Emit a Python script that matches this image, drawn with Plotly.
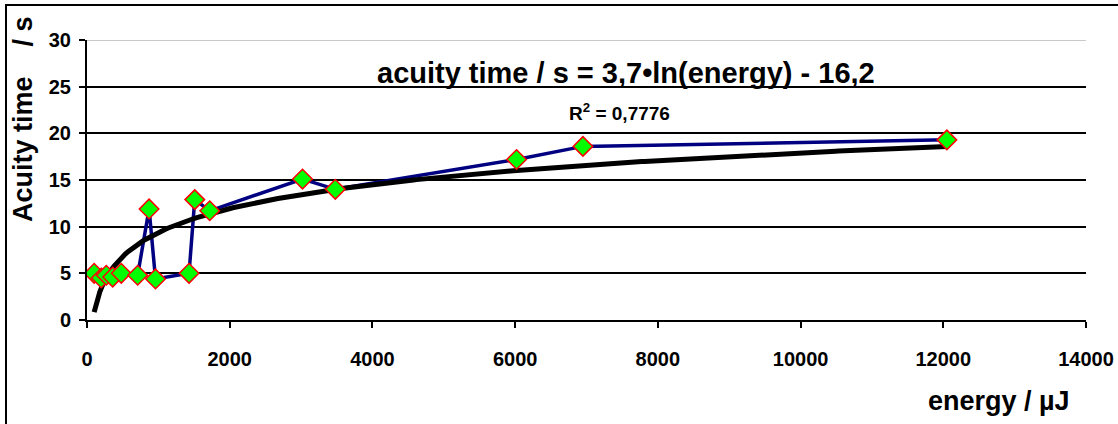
import numpy as np
import plotly.graph_objects as go

# ---- data ----
energy_uJ = [100, 200, 270, 360, 480, 710, 870, 960, 1430, 1510, 1720, 3020, 3480, 6020, 6950, 12050]
acuity_s = [5.0, 4.5, 4.8, 4.6, 5.0, 4.8, 11.9, 4.4, 5.0, 12.9, 11.7, 15.1, 14.0, 17.2, 18.6, 19.3]
x_ticks = [0, 2000, 4000, 6000, 8000, 10000, 12000, 14000]
y_ticks = [0, 5, 10, 15, 20, 25, 30]
equation_text = "acuity time / s = 3,7•ln(energy) - 16,2"
r2_text = "R<sup>2</sup> = 0,7776"
y_title = "Acuity time\u00a0\u00a0\u00a0 / s"
x_title = "energy / µJ"

# logarithmic trendline (least squares on ln x, like the spreadsheet's trendline)
a, b = np.polyfit(np.log(energy_uJ), acuity_s, 1)
trend_x = np.linspace(min(energy_uJ), max(energy_uJ), 300)
trend_y = a * np.log(trend_x) + b

FONT = "Liberation Sans, Arial, sans-serif"

fig = go.Figure()
fig.add_trace(go.Scatter(
    x=energy_uJ, y=acuity_s, mode="lines",
    line=dict(color="#000080", width=3.5), showlegend=False, hoverinfo="skip"))
fig.add_trace(go.Scatter(
    x=trend_x, y=trend_y, mode="lines",
    line=dict(color="black", width=5), showlegend=False))
fig.add_trace(go.Scatter(
    x=energy_uJ, y=acuity_s, mode="markers",
    marker=dict(symbol="diamond", size=15, color="#00FF00",
                line=dict(color="#FF0000", width=1.5)),
    showlegend=False))

# plot-area pixel box, used to place free texts
PL, PR, PT, PB = 87, 1086, 40, 320
def px(xp):
    return (xp - PL) / (PR - PL)
def py(yp):
    return (PB - yp) / (PB - PT)

def bold(size):
    return dict(family=FONT, size=size, color="black", weight="bold")

fig.update_layout(
    width=1118, height=424,
    margin=dict(l=PL, r=1118 - PR, t=PT, b=424 - PB, autoexpand=False),
    paper_bgcolor="white", plot_bgcolor="white",
    font=dict(family=FONT, color="black"),
    xaxis=dict(
        range=[0, 14000], tickvals=x_ticks, ticktext=[str(v) for v in x_ticks],
        showgrid=False, zeroline=False, automargin=False,
        showline=True, linecolor="black", linewidth=2,
        ticks="outside", tickcolor="black", ticklen=6, tickwidth=2,
        tickfont=bold(20),
        ticklabelstandoff=14,
    ),
    yaxis=dict(
        range=[0, 30], tickvals=y_ticks, ticktext=[str(v) for v in y_ticks],
        showgrid=True, gridcolor="black", gridwidth=2,
        zeroline=False, automargin=False,
        showline=True, linecolor="black", linewidth=2,
        ticks="outside", tickcolor="black", ticklen=6, tickwidth=2,
        tickfont=bold(20),
        ticklabelstandoff=4,
    ),
    shapes=[
        dict(type="line", xref="paper", yref="y", x0=0, x1=1, y0=30, y1=30,
             line=dict(color="#c8c8c8", width=2), layer="above"),
        dict(type="rect", xref="paper", yref="paper",
             x0=px(6), x1=1.2, y0=-0.6, y1=py(5),
             line=dict(color="black", width=2), layer="below"),
    ],
    annotations=[
        dict(text=equation_text, x=px(626), y=py(73), xref="paper", yref="paper",
             xanchor="center", yanchor="middle", showarrow=False, font=bold(29)),
        dict(text=r2_text, x=px(619), y=py(112), xref="paper", yref="paper",
             xanchor="center", yanchor="middle", showarrow=False, font=bold(19)),
        dict(text=y_title, x=px(23), y=py(119), xref="paper", yref="paper",
             xanchor="center", yanchor="middle", textangle=-90,
             showarrow=False, font=bold(27)),
        dict(text=x_title, x=px(999), y=py(401), xref="paper", yref="paper",
             xanchor="center", yanchor="middle", showarrow=False, font=bold(27)),
    ],
)

fig.write_html("out.html")
